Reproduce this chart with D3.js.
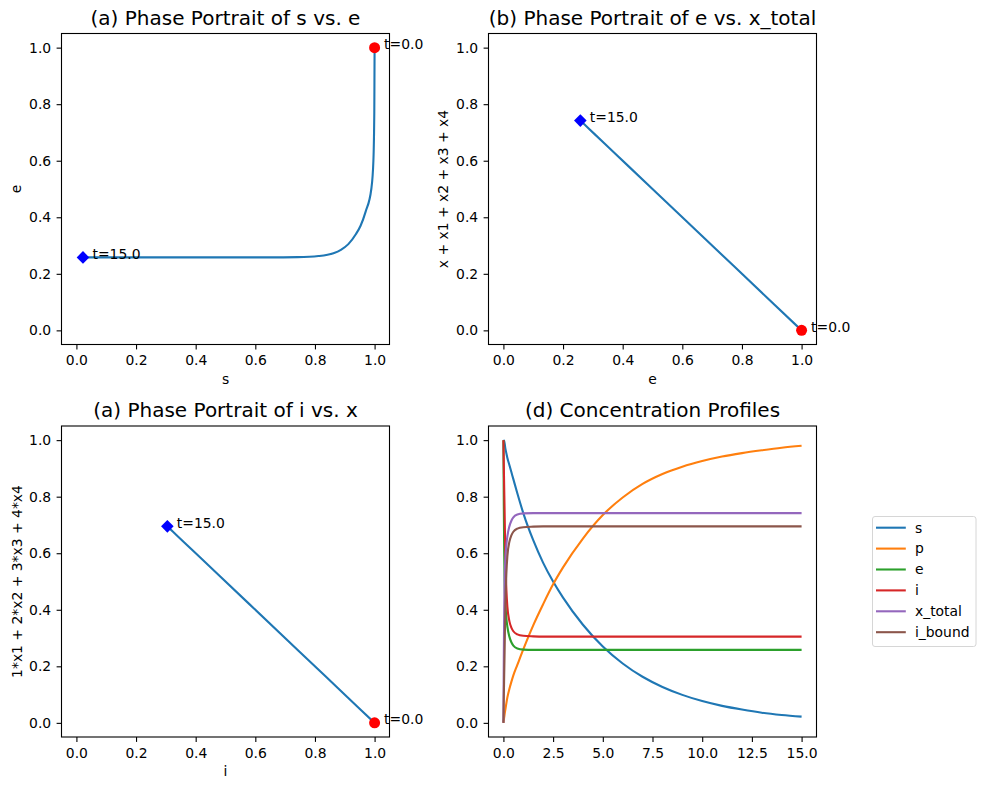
<!DOCTYPE html>
<html>
<head>
<meta charset="utf-8">
<script src="https://cdn.jsdelivr.net/npm/d3@7"></script>
<style>
    body { margin: 0; background: #fff; }
    svg { font-family: "DejaVu Sans", sans-serif; }
</style>
</head>
<body>
<div id="vis"></div>
<script>
// time samples and concentrations
var tVals = [0, 0.01, 0.02, 0.04, 0.06, 0.1, 0.15, 0.2, 0.3, 0.4, 0.5, 0.7, 1.0, 1.5, 2, 2.5, 3, 4, 5, 6, 7, 8, 9, 10, 11, 12, 13, 14, 15];
var sVals = [1.0, 0.9995, 0.999, 0.996, 0.989, 0.97, 0.953, 0.937, 0.912, 0.887, 0.862, 0.812, 0.742, 0.646, 0.566, 0.5, 0.443, 0.347, 0.27, 0.21, 0.163, 0.127, 0.099, 0.077, 0.06, 0.047, 0.036, 0.028, 0.022];
var pVals = [0, 0.005, 0.01, 0.02, 0.03, 0.048, 0.07, 0.09, 0.12, 0.145, 0.168, 0.205, 0.26, 0.345, 0.42, 0.49, 0.55, 0.652, 0.735, 0.797, 0.845, 0.88, 0.906, 0.926, 0.942, 0.954, 0.964, 0.973, 0.98];
var eVals = [1.0, 0.88, 0.77, 0.6, 0.5, 0.42, 0.37, 0.34, 0.305, 0.285, 0.273, 0.263, 0.259, 0.258, 0.258, 0.258, 0.258, 0.258, 0.258, 0.258, 0.258, 0.258, 0.258, 0.258, 0.258, 0.258, 0.258, 0.258, 0.258];
var iVals = [1.0, 0.955, 0.91, 0.83, 0.75, 0.58, 0.47, 0.41, 0.36, 0.337, 0.324, 0.313, 0.308, 0.306, 0.305, 0.305, 0.305, 0.305, 0.305, 0.305, 0.305, 0.305, 0.305, 0.305, 0.305, 0.305, 0.305, 0.305, 0.305];
var xTotalVals = [0, 0.12, 0.23, 0.4, 0.5, 0.58, 0.63, 0.66, 0.695, 0.715, 0.727, 0.737, 0.741, 0.742, 0.742, 0.742, 0.742, 0.742, 0.742, 0.742, 0.742, 0.742, 0.742, 0.742, 0.742, 0.742, 0.742, 0.742, 0.742];
var iBoundVals = [0, 0.045, 0.09, 0.17, 0.25, 0.42, 0.53, 0.59, 0.64, 0.663, 0.676, 0.687, 0.692, 0.694, 0.695, 0.695, 0.695, 0.695, 0.695, 0.695, 0.695, 0.695, 0.695, 0.695, 0.695, 0.695, 0.695, 0.695, 0.695];

var seriesNames = ['s', 'p', 'e', 'i', 'x_total', 'i_bound'];
var seriesColors = ['#1f77b4', '#ff7f0e', '#2ca02c', '#d62728', '#9467bd', '#8c564b'];

var unitTicks = [0, 0.2, 0.4, 0.6, 0.8, 1.0];
var timeTicks = [0, 2.5, 5, 7.5, 10, 12.5, 15];

var titles = ['(a) Phase Portrait of s vs. e', '(b) Phase Portrait of e vs. x_total',
              '(a) Phase Portrait of i vs. x', '(d) Concentration Profiles'];

var width = 986, height = 790;
var pw = 328, ph = 311;
var fmt = d3.format('.1f');

var svg = d3.select('#vis').append('svg')
    .attr('width', width)
    .attr('height', height);

var styleAxis = function(sel) {
    sel.select('.domain').remove();
    sel.attr('font-size', 13.9).attr('font-family', '"DejaVu Sans", sans-serif').attr('color', '#000');
    sel.selectAll('.tick line').attr('stroke-width', 1.1);
};

// build one subplot frame, returns scales + groups
var makeAxes = function(id, left, top, xDomain, xTicks, title, xLabel, yLabel, ylabelX) {
    var x = d3.scaleLinear().domain(xDomain).range([left, left + pw]);
    var y = d3.scaleLinear().domain([-0.05, 1.05]).range([top + ph, top]);

    svg.append('clipPath').attr('id', id)
        .append('rect').attr('x', left).attr('y', top).attr('width', pw).attr('height', ph);

    var g = svg.append('g');
    var plot = g.append('g').attr('clip-path', 'url(#' + id + ')');
    var marks = g.append('g');

    var xAxisG = g.append('g')
        .attr('transform', 'translate(0,' + (top + ph) + ')')
        .call(d3.axisBottom(x).tickValues(xTicks).tickFormat(fmt).tickSizeOuter(0).tickSize(4.9).tickPadding(6.2));
    styleAxis(xAxisG);

    var yAxisG = g.append('g')
        .attr('transform', 'translate(' + left + ',0)')
        .call(d3.axisLeft(y).tickValues(unitTicks).tickFormat(fmt).tickSizeOuter(0).tickSize(4.9).tickPadding(5.4));
    styleAxis(yAxisG);

    g.append('rect')
        .attr('x', left).attr('y', top)
        .attr('width', pw).attr('height', ph)
        .attr('fill', 'none')
        .attr('stroke', '#000')
        .attr('stroke-width', 1.1);

    g.append('text')
        .attr('x', left + pw / 2).attr('y', top - 9)
        .attr('text-anchor', 'middle')
        .attr('font-size', 20)
        .text(title);

    if (xLabel) {
        g.append('text')
            .attr('x', left + pw / 2).attr('y', top + ph + 39)
            .attr('text-anchor', 'middle')
            .attr('font-size', 13.9)
            .text(xLabel);
    }
    if (yLabel) {
        g.append('text')
            .attr('transform', 'translate(' + ylabelX + ',' + (top + ph / 2) + ') rotate(-90)')
            .attr('text-anchor', 'middle')
            .attr('font-size', 13.9)
            .text(yLabel);
    }
    return {x: x, y: y, plot: plot, marks: marks, g: g};
};

// phase portrait: curve, start dot, end diamond, labels
var drawPhase = function(ax, xs, ys, smooth) {
    var pts = xs.map(function(d, i) { return [d, ys[i]]; });
    var linePts = smooth ? pts.slice().sort(function(a, b) { return a[0] - b[0]; }) : pts;
    var line = d3.line()
        .x(function(d) { return ax.x(d[0]); })
        .y(function(d) { return ax.y(d[1]); })
        .curve(smooth ? d3.curveMonotoneX : d3.curveLinear);

    ax.plot.append('path')
        .attr('d', line(linePts))
        .attr('fill', 'none')
        .attr('stroke', seriesColors[0])
        .attr('stroke-width', 2.1);

    var first = pts[0], last = pts[pts.length - 1];
    var fx = ax.x(first[0]), fy = ax.y(first[1]);
    var lx = ax.x(last[0]), ly = ax.y(last[1]);
    var r = 6.3;

    ax.marks.append('circle')
        .attr('cx', fx).attr('cy', fy).attr('r', 5.5)
        .attr('fill', '#ff0000');
    ax.marks.append('path')
        .attr('d', 'M' + lx + ',' + (ly - r) + 'L' + (lx + r) + ',' + ly + 'L' + lx + ',' + (ly + r) + 'L' + (lx - r) + ',' + ly + 'Z')
        .attr('fill', '#0000ff');

    ax.g.append('text')
        .attr('x', fx + 9.5).attr('y', fy + 1.5)
        .attr('font-size', 13.9)
        .text('t=' + fmt(tVals[0]));
    ax.g.append('text')
        .attr('x', lx + 9.5).attr('y', ly + 1.5)
        .attr('font-size', 13.9)
        .text('t=' + fmt(tVals[tVals.length - 1]));
};

var ax1 = makeAxes('c1', 61.5, 33.5, [-0.05, 1.05], unitTicks, titles[0], 's', 'e', 21);
var ax2 = makeAxes('c2', 488.5, 33.5, [-0.05, 1.05], unitTicks, titles[1], 'e', 'x + x1 + x2 + x3 + x4', 448);
var ax3 = makeAxes('c3', 61.5, 426, [-0.05, 1.05], unitTicks, titles[2], 'i', '1*x1 + 2*x2 + 3*x3 + 4*x4', 21.5);
var ax4 = makeAxes('c4', 488.5, 426, [-0.75, 15.75], timeTicks, titles[3], null, null, 0);

drawPhase(ax1, sVals, eVals, true);
drawPhase(ax2, eVals, xTotalVals, false);
drawPhase(ax3, iVals, iBoundVals, false);

// concentration profiles
var allSeries = [sVals, pVals, eVals, iVals, xTotalVals, iBoundVals];
var tLine = d3.line()
    .x(function(d) { return ax4.x(d[0]); })
    .y(function(d) { return ax4.y(d[1]); })
    .curve(d3.curveMonotoneX);

allSeries.forEach(function(vals, k) {
    var pts = tVals.map(function(t, i) { return [t, vals[i]]; });
    ax4.plot.append('path')
        .attr('d', tLine(pts))
        .attr('fill', 'none')
        .attr('stroke', seriesColors[k])
        .attr('stroke-width', 2.1);
});

// legend outside on the right
var legend = svg.append('g').attr('transform', 'translate(872.5,516.5)');
legend.append('rect')
    .attr('width', 103.5).attr('height', 130)
    .attr('rx', 2.5)
    .attr('fill', '#fff')
    .attr('fill-opacity', 0.8)
    .attr('stroke', '#d6d6d6')
    .attr('stroke-width', 1);

seriesNames.forEach(function(name, k) {
    var yy = 11.2 + k * 20.9;
    legend.append('line')
        .attr('x1', 3.5).attr('x2', 33.3)
        .attr('y1', yy).attr('y2', yy)
        .attr('stroke', seriesColors[k])
        .attr('stroke-width', 2.1);
    legend.append('text')
        .attr('x', 42.5).attr('y', yy + 4.8)
        .attr('font-size', 13.9)
        .text(name);
});
</script>
</body>
</html>
